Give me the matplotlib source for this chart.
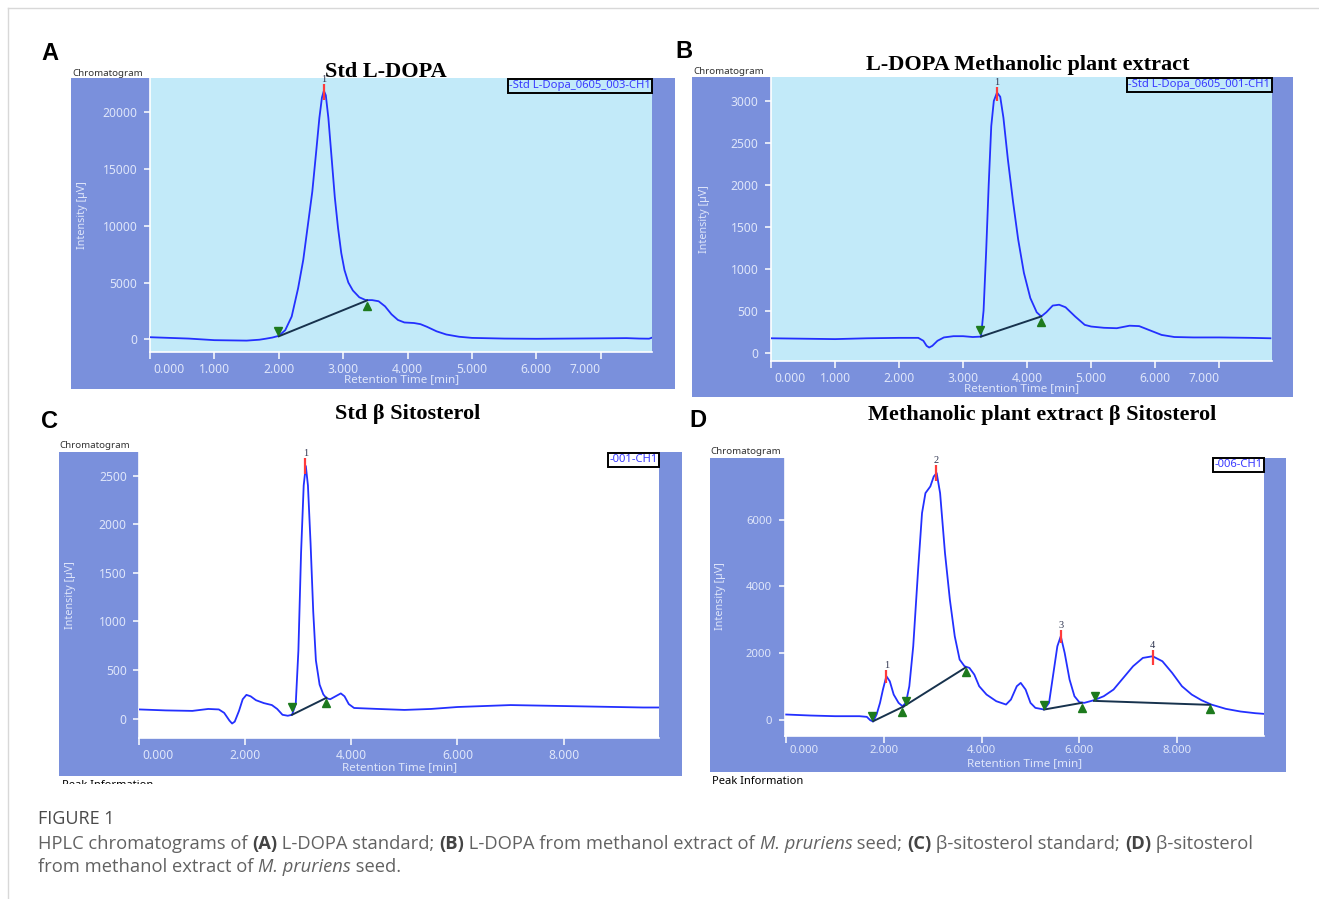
import matplotlib
matplotlib.use("Agg")
import matplotlib.pyplot as plt
from matplotlib.patches import Rectangle
from matplotlib.lines import Line2D
from matplotlib.transforms import ScaledTranslation

# ---------------- data ----------------
a_time = [0.0, 0.3, 0.6, 1.0, 1.5, 1.7, 1.8, 1.9, 2.0, 2.1, 2.2, 2.3, 2.38, 2.45, 2.52, 2.58,
          2.63, 2.67, 2.70, 2.73, 2.77, 2.82, 2.87, 2.92, 2.97, 3.02, 3.08, 3.15, 3.25, 3.35,
          3.45, 3.55, 3.65, 3.75, 3.85, 3.95, 4.1, 4.2, 4.3, 4.45, 4.6, 4.8, 5.0, 5.5, 6.0,
          6.5, 7.0, 7.4, 7.6, 7.75, 7.8]
a_signal = [180, 120, 60, -80, -120, -40, 50, 150, 300, 800, 2000, 4500, 7000, 10000, 13000, 16500,
            19500, 21300, 21900, 21500, 19500, 16000, 12500, 9800, 7600, 6100, 5000, 4300, 3700, 3450,
            3450, 3350, 2900, 2200, 1700, 1480, 1430, 1330, 1100, 700, 420, 220, 120, 60, 40,
            60, 80, 100, 60, 50, 150]
a_peak_time = [2.70]
a_peak_label = ["1"]
a_base_time = [2.00, 3.37]
a_base_signal = [260, 3420]
a_yticks = [0, 5000, 10000, 15000, 20000]
a_xticks = [0, 1, 2, 3, 4, 5, 6, 7]

b_time = [0.0, 0.5, 1.0, 1.5, 2.0, 2.3, 2.38, 2.43, 2.47, 2.52, 2.6, 2.7, 2.85, 3.0, 3.15, 3.28,
          3.32, 3.36, 3.40, 3.44, 3.48, 3.53, 3.58, 3.63, 3.70, 3.78, 3.86, 3.95, 4.05, 4.15,
          4.22, 4.30, 4.40, 4.5, 4.6, 4.75, 4.9, 5.0, 5.2, 5.4, 5.6, 5.75, 5.9, 6.1, 6.3, 6.6,
          7.0, 7.5, 7.8]
b_signal = [170, 165, 160, 170, 175, 175, 140, 80, 60, 80, 140, 180, 195, 195, 185, 190,
            500, 1200, 2000, 2700, 3000, 3100, 3050, 2800, 2300, 1800, 1350, 950, 650, 480,
            430, 480, 560, 570, 540, 430, 330, 310, 295, 290, 320, 315, 270, 210, 185, 180,
            180, 175, 170]
b_peak_time = [3.53]
b_peak_label = ["1"]
b_base_time = [3.28, 4.22]
b_base_signal = [190, 430]
b_yticks = [0, 500, 1000, 1500, 2000, 2500, 3000]
b_xticks = [0, 1, 2, 3, 4, 5, 6, 7]

c_time = [0.0, 0.5, 1.0, 1.3, 1.5, 1.6, 1.7, 1.75, 1.8, 1.88, 1.95, 2.02, 2.1, 2.2, 2.35, 2.5,
          2.6, 2.7, 2.8, 2.88, 2.95, 3.0, 3.05, 3.1, 3.14, 3.18, 3.23, 3.28, 3.33, 3.4, 3.47,
          3.53, 3.6, 3.7, 3.8, 3.87, 3.95, 4.05, 4.5, 5.0, 5.5, 6.0, 6.5, 7.0, 7.5, 8.0, 8.5,
          9.0, 9.5, 9.8]
c_signal = [95, 85, 80, 100, 95, 60, -20, -50, -30, 80, 200, 245, 230, 190, 160, 140,
            100, 40, 30, 40, 150, 700, 1700, 2400, 2600, 2400, 1800, 1100, 600, 350, 250,
            210, 200, 230, 260, 230, 150, 110, 100, 90, 100, 120, 130, 140, 135, 130, 125,
            120, 115, 115]
c_peak_time = [3.13]
c_peak_label = ["1"]
c_base_time = [2.88, 3.53]
c_base_signal = [40, 215]
c_yticks = [0, 500, 1000, 1500, 2000, 2500]
c_xticks = [0, 2, 4, 6, 8]

d_time = [0.0, 0.5, 1.0, 1.5, 1.65, 1.72, 1.78, 1.85, 1.92, 1.98, 2.05, 2.12, 2.2, 2.3, 2.38,
          2.45, 2.52, 2.6, 2.7, 2.78, 2.85, 2.95, 3.02, 3.08, 3.15, 3.25, 3.35, 3.45, 3.55,
          3.65, 3.75, 3.85, 3.95, 4.1, 4.3, 4.5, 4.6, 4.72, 4.8, 4.9, 5.0, 5.1, 5.28, 5.38,
          5.45, 5.55, 5.62, 5.7, 5.8, 5.9, 6.0, 6.1, 6.3, 6.5, 6.7, 6.9, 7.1, 7.3, 7.5, 7.7,
          7.9, 8.1, 8.3, 8.5, 8.7, 9.0, 9.3, 9.6, 9.78]
d_signal = [150, 120, 100, 100, 80, -20, -60, 150, 500, 900, 1300, 1150, 750, 500, 400,
            500, 1000, 2200, 4500, 6200, 6800, 7000, 7300, 7400, 6800, 5000, 3600, 2500, 1800,
            1600, 1550, 1350, 1000, 750, 550, 450, 600, 1000, 1100, 900, 500, 350, 300, 500,
            1200, 2200, 2500, 2000, 1200, 700, 520, 500, 580, 700, 900, 1250, 1600, 1850, 1900, 1750,
            1400, 1000, 750, 580, 450, 320, 240, 190, 170]
d_peak_time = [2.05, 3.06, 5.62, 7.50]
d_peak_label = ["1", "2", "3", "4"]
d_base_time = [1.78, 2.40, 3.67, 5.28, 6.05, 6.30, 8.68]
d_base_signal = [-50, 390, 1560, 300, 500, 560, 440]
d_yticks = [0, 2000, 4000, 6000]
d_xticks = [0, 2, 4, 6, 8]

# ---------------- style ----------------
W, H = 1319, 899
FRAME = "#7a90dc"
CYAN = "#c2eaf9"
LINE = "#2330ff"
BASE = "#17324d"
GREEN = "#1d7a1d"
RED = "#ff3b3b"
TICKC = "#dfe6fa"
plt.rcParams["font.family"] = ["Noto Sans", "DejaVu Sans"]

fig = plt.figure(figsize=(W / 100, H / 100), dpi=100)


def fx(x):
    return x / W


def fy(y):
    return 1 - y / H


def frect(x0, y0, x1, y1):
    return [x0 / W, 1 - y1 / H, (x1 - x0) / W, (y1 - y0) / H]


# figure border lines
fig.add_artist(Line2D([fx(8), 1], [fy(8), fy(8)], transform=fig.transFigure, color="#d8d8d8", lw=1))
fig.add_artist(Line2D([fx(8), fx(8)], [fy(8), 0], transform=fig.transFigure, color="#d8d8d8", lw=1))


def panel(frame, plot, bg, time, signal, xlim, ylim, xticks, yticks, peaks, labels,
          base_t, base_s, base_pairs, down_marks, up_marks, legend, last_right,
          ylab_x, xlab_y, chrom_xy, tick_lo, tick_hi, tick_fs=8.7, xpad=3):
    fig.add_artist(Rectangle((fx(frame[0]), fy(frame[3])), (frame[2] - frame[0]) / W,
                             (frame[3] - frame[1]) / H, transform=fig.transFigure,
                             fc=FRAME, ec="none", zorder=-5))
    ax = fig.add_axes(frect(*plot))
    ax.set_facecolor(bg)
    ax.plot(time, signal, color=LINE, lw=1.3, zorder=3)
    for i, j in base_pairs:
        ax.plot([base_t[i], base_t[j]], [base_s[i], base_s[j]], color=BASE, lw=1.4, zorder=4)
    for (t, v) in down_marks:
        ax.plot([t], [v], marker="v", ms=6, color=GREEN, ls="none", zorder=5)
    for (t, v) in up_marks:
        ax.plot([t], [v], marker="^", ms=6, color=GREEN, ls="none", zorder=5)
    for t, lo, hi, lab in zip(peaks, tick_lo, tick_hi, labels):
        ax.vlines(t, lo, hi, color=RED, lw=1.6, zorder=6)
        ax.text(t, hi, lab, ha="center", va="bottom", fontsize=7.5, color="#2f3550",
                family="Liberation Serif", zorder=7, clip_on=False)
    ax.set_xlim(*xlim)
    ax.set_ylim(*ylim)
    for s in ("top", "right"):
        ax.spines[s].set_visible(False)
    for s in ("left", "bottom"):
        ax.spines[s].set_color("white")
        ax.spines[s].set_linewidth(1.2)
    ax.set_xticks(xticks)
    ax.set_xticklabels(["%.3f" % t for t in xticks])
    ax.set_yticks(yticks)
    ax.set_yticklabels([str(v) for v in yticks])
    ax.tick_params(axis="both", colors="white", labelcolor=TICKC, labelsize=tick_fs,
                   direction="out", width=1.1)
    ax.tick_params(axis="x", length=5, pad=xpad)
    ax.tick_params(axis="y", length=4, pad=5)
    lbls = ax.get_xticklabels()
    lbls[0].set_ha("left")
    lbls[0].set_transform(lbls[0].get_transform() + ScaledTranslation(0.03, 0, fig.dpi_scale_trans))
    if last_right:
        lbls[-1].set_ha("right")
    # legend box
    ax.text(0.997, 0.993, legend, transform=ax.transAxes, ha="right", va="top", fontsize=8.1,
            color="#3a3aff", zorder=8,
            bbox=dict(boxstyle="square,pad=0.12", fc=bg, ec="black", lw=1.4))
    # axis labels
    fig.text(fx(ylab_x), fy((plot[1] + plot[3]) / 2), "Intensity [µV]", rotation=90,
             ha="center", va="center", fontsize=7.8, color=TICKC)
    fig.text(fx((plot[0] + plot[2]) / 2), fy(xlab_y), "Retention Time [min]",
             ha="center", va="center", fontsize=8.4, color=TICKC)
    fig.text(fx(chrom_xy[0]), fy(chrom_xy[1]), "Chromatogram", ha="left", va="center",
             fontsize=7, color="#333333")
    return ax


panel((70.7, 78.3, 675, 389), (150, 78.3, 652.3, 352.3), CYAN, a_time, a_signal,
      (0, 7.80), (-1150, 23000), a_xticks, a_yticks, a_peak_time, a_peak_label,
      a_base_time, a_base_signal, [(0, 1)],
      [(a_base_time[0] - 0.02, 700)], [(a_base_time[1], 2950)],
      "-Std L-Dopa_0605_003-CH1", True, 82, 380, (72, 73), [21100], [22500])

panel((692.3, 77.3, 1293, 397.3), (771, 77.3, 1271.7, 360.5), CYAN, b_time, b_signal,
      (0, 7.82), (-95, 3282), b_xticks, b_yticks, b_peak_time, b_peak_label,
      b_base_time, b_base_signal, [(0, 1)],
      [(b_base_time[0] - 0.02, 265)], [(b_base_time[1], 370)],
      "-Std L-Dopa_0605_001-CH1", True, 704, 389, (693, 71), [3000], [3170])

panel((59.3, 452.3, 682, 776), (139.3, 452.3, 659, 738.3), "white", c_time, c_signal,
      (0, 9.8), (-202, 2741), c_xticks, c_yticks, c_peak_time, c_peak_label,
      c_base_time, c_base_signal, [(0, 1)],
      [(c_base_time[0], 120)], [(c_base_time[1], 165)],
      "-001-CH1", False, 70, 768, (59, 445), [2520], [2680])

panel((710, 457.5, 1286, 772), (784.5, 457.5, 1264, 735.5), "white", d_time, d_signal,
      (-0.035, 9.78), (-480, 7869), d_xticks, d_yticks, d_peak_time, d_peak_label,
      d_base_time, d_base_signal, [(0, 1), (1, 2), (3, 4), (5, 6)],
      [(1.76, 120), (2.45, 560), (5.28, 430), (6.32, 720)],
      [(2.38, 240), (3.67, 1440), (6.05, 360), (8.68, 310)],
      "-006-CH1", False, 721, 764, (710, 451),
      [1100, 7150, 2300, 1650], [1500, 7650, 2700, 2100], tick_fs=8.2, xpad=2)

# titles and panel letters
for s, x, y in [("Std L-DOPA", 386, 72), ("L-DOPA Methanolic plant extract", 1028, 65),
                ("Std β Sitosterol", 408, 414), ("Methanolic plant extract β Sitosterol", 1042, 415)]:
    fig.text(fx(x), fy(y), s, ha="center", va="center", fontsize=16, weight="bold",
             family="Liberation Serif", color="black")
for s, x, y in [("A", 41, 54), ("B", 675, 52), ("C", 41, 421), ("D", 689, 420)]:
    fig.text(fx(x), fy(y), s, ha="left", va="center", fontsize=17, weight="bold",
             family="Liberation Sans", color="black")

# partly hidden "Peak Information" texts below C and D
fig.text(fx(62), fy(786), "Peak Information", ha="left", va="center", fontsize=8, weight="bold",
         color="black")
fig.text(fx(712), fy(782), "Peak Information", ha="left", va="center", fontsize=8, weight="bold",
         color="black")
fig.add_artist(Rectangle((fx(40), fy(800)), 700 / W, (800 - 783.5) / H, transform=fig.transFigure,
                         fc="white", ec="none", zorder=20))
fig.add_artist(Rectangle((fx(700), fy(800)), 600 / W, (800 - 785) / H, transform=fig.transFigure,
                         fc="white", ec="none", zorder=20))

# caption
fig.text(fx(38), fy(819), "FIGURE 1", ha="left", va="center", fontsize=13, family="Open Sans",
         color="#4a4a4a", zorder=30)
renderer = fig.canvas.get_renderer()
CAP_FS = 13.2


def adv(s, **kw):
    t1 = fig.text(0, 0, "x" + s + "x", fontsize=CAP_FS, family="Open Sans", **kw)
    t2 = fig.text(0, 0, "xx", fontsize=CAP_FS, family="Open Sans", **kw)
    w = t1.get_window_extent(renderer).width - t2.get_window_extent(renderer).width
    t1.remove()
    t2.remove()
    return w


def runs(parts, x, y):
    for s, kind in parts:
        kw = {}
        col = "#626262"
        if kind == "b":
            kw["weight"] = "bold"
            col = "#444444"
        elif kind == "i":
            kw["style"] = "italic"
        fig.text(fx(x), fy(y), s, ha="left", va="center", fontsize=CAP_FS, family="Open Sans",
                 color=col, zorder=30, **kw)
        x += adv(s, **kw)


runs([("HPLC chromatograms of ", "n"), ("(A)", "b"), (" L-DOPA standard; ", "n"), ("(B)", "b"),
      (" L-DOPA from methanol extract of ", "n"), ("M. pruriens", "i"), (" seed; ", "n"),
      ("(C)", "b"), (" β-sitosterol standard; ", "n"), ("(D)", "b"), (" β-sitosterol", "n")], 38, 844)
runs([("from methanol extract of ", "n"), ("M. pruriens", "i"), (" seed.", "n")], 38, 867)

fig.savefig("out.png", dpi=100)
